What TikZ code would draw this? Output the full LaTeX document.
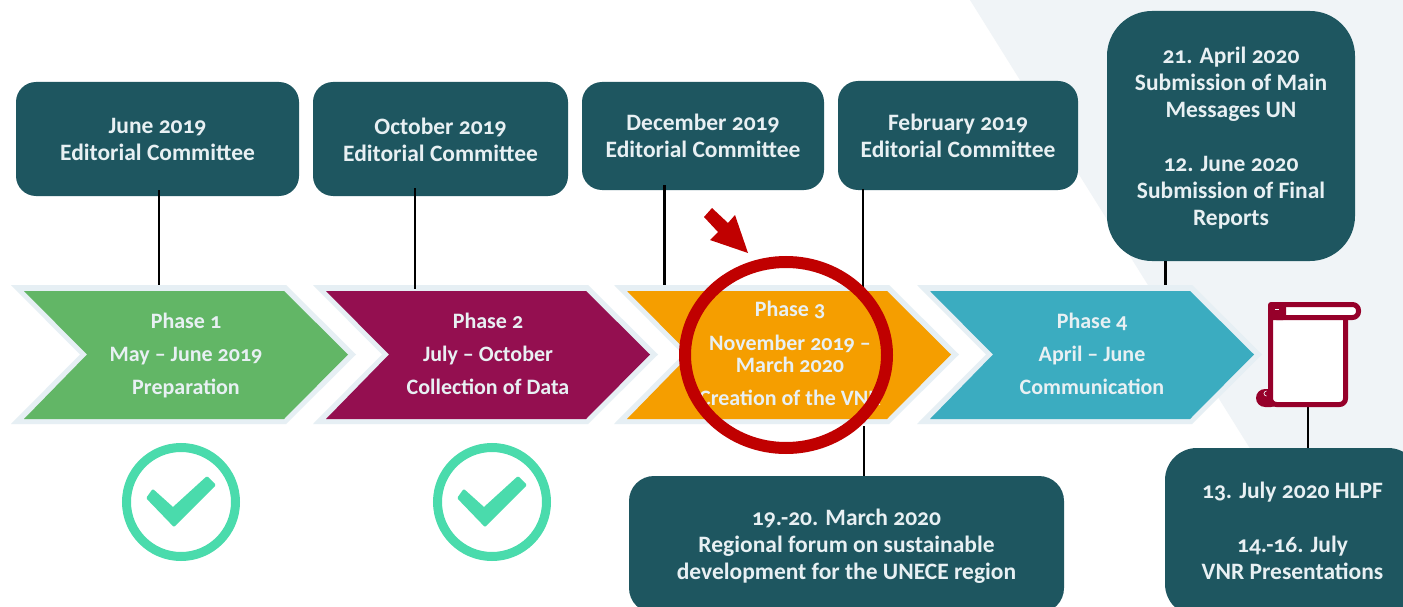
\documentclass[tikz,border=0pt]{standalone}
\usepackage{fontspec}
\setmainfont[Numbers=OldStyle]{Carlito}
\usetikzlibrary{calc}
\definecolor{boxc}{HTML}{1E5660}
\definecolor{txt}{HTML}{E8F0F3}
\definecolor{edge}{HTML}{E6EFF4}
\definecolor{pale}{HTML}{F0F4F7}
\definecolor{pgreen}{HTML}{62B666}
\definecolor{ppurple}{HTML}{940F50}
\definecolor{porange}{HTML}{F59E00}
\definecolor{pteal}{HTML}{3BACC0}
\definecolor{ring}{HTML}{C00000}
\definecolor{chk}{HTML}{4ADBAC}
\definecolor{scrollc}{HTML}{96002A}
\tikzset{
  x=1pt,y=-1pt,
  boxtext/.style={text=txt,font=\fontsize{23.5}{27}\selectfont\bfseries,align=center,inner sep=0pt},
  ptext/.style={text=txt,font=\fontsize{22}{24}\selectfont\bfseries,align=center,inner sep=0pt,anchor=base},
  conn/.style={draw=black,line width=2pt},
  chev/.pic={
    \fill[edge] (-13,-6) -- (262,-6) -- (332,63.5) -- (262,133) -- (-13,133) -- (56,63.5) -- cycle;
    \fill[pic actions] (0,0) -- (260,0) -- (324,63.5) -- (260,128) -- (0,128) -- (63,63.5) -- cycle;
  },
  tick/.pic={
    \draw[chk,line width=9pt] (0,0) circle (54.5);
    \fill[chk,draw=chk,line width=3pt,line join=round] (-28,-11) -- (-8,7) -- (26,-24) -- (33,-17) -- (-7,23) -- (-33,-4) -- cycle;
  }
}
\newcommand{\tbox}[8]{%
  \fill[boxc,rounded corners=#6] (#2,#3) rectangle (#4,#5);
  \node[boxtext] (#1) at ({(#2+#4)/2},#7) {#8};
  \coordinate (#1s) at ({(#2+#4)/2},#5);
  \coordinate (#1n) at ({(#2+#4)/2},#3);
}
\begin{document}
\begin{tikzpicture}
\useasboundingbox (0,0) rectangle (1403,607);
\fill[white] (0,0) rectangle (1403,607);
\fill[pale] (970,0) -- (1403,0) -- (1403,607) -- (1349,607) -- cycle;

% connector end points
\coordinate (a1) at (159,285);
\coordinate (a2) at (415,289);
\coordinate (a3) at (664,285);
\coordinate (a4) at (863,292);
\coordinate (a5) at (864,426);
\coordinate (a6) at (1165,285);
\coordinate (a7) at (1308,405);

% boxes
\tbox{b1}{16}{82}{299}{196}{20pt}{139.5}{June 2019\\Editorial Committee}
\tbox{b2}{313}{82}{568}{196}{20pt}{139.5}{October 2019\\Editorial Committee}
\tbox{b3}{582}{82}{824}{190}{20pt}{136}{December 2019\\Editorial Committee}
\tbox{b4}{838}{81}{1078}{190}{20pt}{136}{February 2019\\Editorial Committee}
\tbox{b5}{1107}{11}{1355}{261}{45pt}{138.5}{21. April 2020\\Submission of Main\\Messages UN\\[27pt]12. June 2020\\Submission of Final\\Reports}
\tbox{b6}{629}{476}{1064}{613}{25pt}{546.5}{19.-20. March 2020\\Regional forum on sustainable\\development for the UNECE region}
\tbox{b7}{1165}{448}{1420}{616}{32pt}{531}{13. July 2020 HLPF\\[27pt]14.-16. July\\VNR Presentations}

% chevrons
\pic[fill=pgreen] at (24,291) {chev};
\pic[fill=ppurple] at (326,291) {chev};
\pic[fill=porange] at (627,291) {chev};
\pic[fill=pteal] at (930,291) {chev};

% connectors
\draw[conn] ($(a1 |- b1s)+(0,-6)$) -- (a1);
\draw[conn] ($(a2 |- b2s)+(0,-8)$) -- (a2);
\draw[conn,line width=3pt] ($(a3 |- b3s)+(0,-5)$) -- (a3);
\draw[conn] ($(a4 |- b4s)+(0,-1)$) -- (a4);
\draw[conn] (a5) -- (a5 |- b6n);
\draw[conn,line width=3pt] (a6 |- b5s) -- (a6);
\draw[conn] (a7) -- (a7 |- b7n);

\node[ptext] (p1a) at (186,328) {Phase 1};
\node[ptext] (p1b) at (186,361.5) {May – June 2019};
\node[ptext] (p1c) at (186,394) {Preparation};
\node[ptext] (p2a) at (488,328) {Phase 2};
\node[ptext] (p2b) at (488,361.5) {July – October};
\node[ptext] (p2c) at (488,394) {Collection of Data};
\node[ptext] (p3a) at (790,316.5) {Phase 3};
\node[ptext] (p3b) at (790,350) {November 2019 –};
\node[ptext] (p3d) at (790,372.5) {March 2020};
\node[ptext] (p3c) at (790,405.5) {Creation of the VNR};
\node[ptext] (p4a) at (1092,328) {Phase 4};
\node[ptext] (p4b) at (1092,361.5) {April – June};
\node[ptext] (p4c) at (1092,394) {Communication};

% red ring and arrow
\draw[ring,line width=12pt] (786,355) ellipse [x radius=101,y radius=93];
\fill[ring] (704,217) -- (712,208) -- (728,223) -- (735,215) -- (748,253) -- (710,240) -- (718,232) -- cycle;

% ticks
\pic at (181,502) {tick};
\pic at (492,502) {tick};

% scroll
\begin{scope}[line join=round]
  \fill[scrollc,rounded corners=9pt] (1256,389) rectangle (1280,407);
  \draw[scrollc,line width=5pt,fill=white,rounded corners=6pt] (1270.5,310) -- (1270.5,404.5) -- (1345.5,404.5) -- (1345.5,310) -- cycle;
  \draw[scrollc,line width=5pt,fill=white,rounded corners=6pt] (1270.5,304.5) rectangle (1358.5,317.5);
  \fill[scrollc,rounded corners=3pt] (1268,302) rectangle (1286,320);
  \draw[pale,line width=0.6pt] (1275,309.5) -- (1279,309.5);
  \draw[pale,line width=0.7pt] (1266.5,396) arc[start angle=90,end angle=270,radius=2.5];
\end{scope}
\end{tikzpicture}
\end{document}
